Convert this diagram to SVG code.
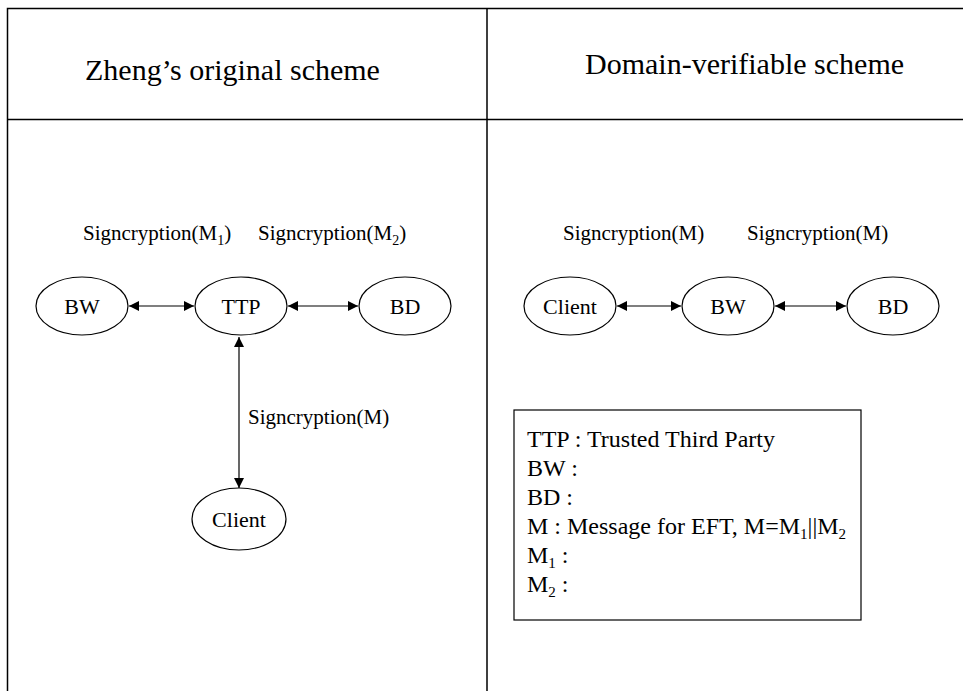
<svg xmlns="http://www.w3.org/2000/svg" width="963" height="691" viewBox="0 0 963 691" font-family="'Liberation Serif', 'Times New Roman', serif">
<defs>
<marker id="ah" viewBox="0 0 10 10" refX="10" refY="5" markerWidth="10" markerHeight="10" markerUnits="userSpaceOnUse" orient="auto-start-reverse">
<path d="M0,0 L10,5 L0,10 z" fill="#000"/>
</marker>
<style>
.title{font-size:30px}
.lbl{font-size:21px}
.node{font-size:22px}
.leg{font-size:24px}
.sub{font-size:14px}
.lsub{font-size:15px}
ellipse{fill:#fff;stroke:#000;stroke-width:1.2}
.grid{stroke:#000;stroke-width:1.5;fill:none}
.conn{stroke:#000;stroke-width:1.2;fill:none;marker-start:url(#ah);marker-end:url(#ah)}
</style>
</defs>
<rect width="963" height="691" fill="#fff"/>
<g id="table">
<path class="grid" d="M7.5,691 V8.5 H963 M487,8.5 V691 M7.5,119.5 H963"/>
<text class="title" x="85" y="80">Zheng’s original scheme</text>
<text class="title" x="585" y="74">Domain-verifiable scheme</text>
</g>
<g id="connectors">
<line class="conn" x1="129" y1="306" x2="194" y2="306"/>
<line class="conn" x1="288" y1="306" x2="358" y2="306"/>
<line class="conn" x1="239" y1="337" x2="239" y2="488"/>
<line class="conn" x1="617" y1="306" x2="681" y2="306"/>
<line class="conn" x1="775" y1="306" x2="846" y2="306"/>
<text class="lbl" x="83" y="240">Signcryption(M<tspan class="sub" dy="5">1</tspan><tspan dy="-5">)</tspan></text>
<text class="lbl" x="258" y="240">Signcryption(M<tspan class="sub" dy="5">2</tspan><tspan dy="-5">)</tspan></text>
<text class="lbl" x="248" y="424">Signcryption(M)</text>
<text class="lbl" x="563" y="240">Signcryption(M)</text>
<text class="lbl" x="747" y="240">Signcryption(M)</text>
</g>
<g id="node-bw-left"><ellipse cx="82" cy="306" rx="46" ry="29"/><text class="node" x="82" y="314" text-anchor="middle">BW</text></g>
<g id="node-ttp"><ellipse cx="241" cy="306" rx="46" ry="29"/><text class="node" x="241" y="314" text-anchor="middle">TTP</text></g>
<g id="node-bd-left"><ellipse cx="405" cy="306" rx="46" ry="29"/><text class="node" x="405" y="314" text-anchor="middle">BD</text></g>
<g id="node-client-left"><ellipse cx="239" cy="519" rx="47" ry="31"/><text class="node" x="239" y="527" text-anchor="middle">Client</text></g>
<g id="node-client-right"><ellipse cx="570" cy="306" rx="46" ry="29"/><text class="node" x="570" y="314" text-anchor="middle">Client</text></g>
<g id="node-bw-right"><ellipse cx="728" cy="306" rx="46" ry="29"/><text class="node" x="728" y="314" text-anchor="middle">BW</text></g>
<g id="node-bd-right"><ellipse cx="893" cy="306" rx="46" ry="29"/><text class="node" x="893" y="314" text-anchor="middle">BD</text></g>
<g id="legend">
<rect x="514" y="410" width="347" height="210" fill="#fff" stroke="#000" stroke-width="1.2"/>
<text class="leg" x="527" y="447">TTP : Trusted Third Party</text>
<text class="leg" x="527" y="476">BW :</text>
<text class="leg" x="527" y="505">BD :</text>
<text class="leg" x="527" y="534">M : Message for EFT, M=M<tspan class="lsub" dy="5">1</tspan><tspan dy="-5">||M</tspan><tspan class="lsub" dy="5">2</tspan></text>
<text class="leg" x="527" y="563">M<tspan class="lsub" dy="5">1</tspan><tspan dy="-5"> :</tspan></text>
<text class="leg" x="527" y="592">M<tspan class="lsub" dy="5">2</tspan><tspan dy="-5"> :</tspan></text>
</g>
</svg>
